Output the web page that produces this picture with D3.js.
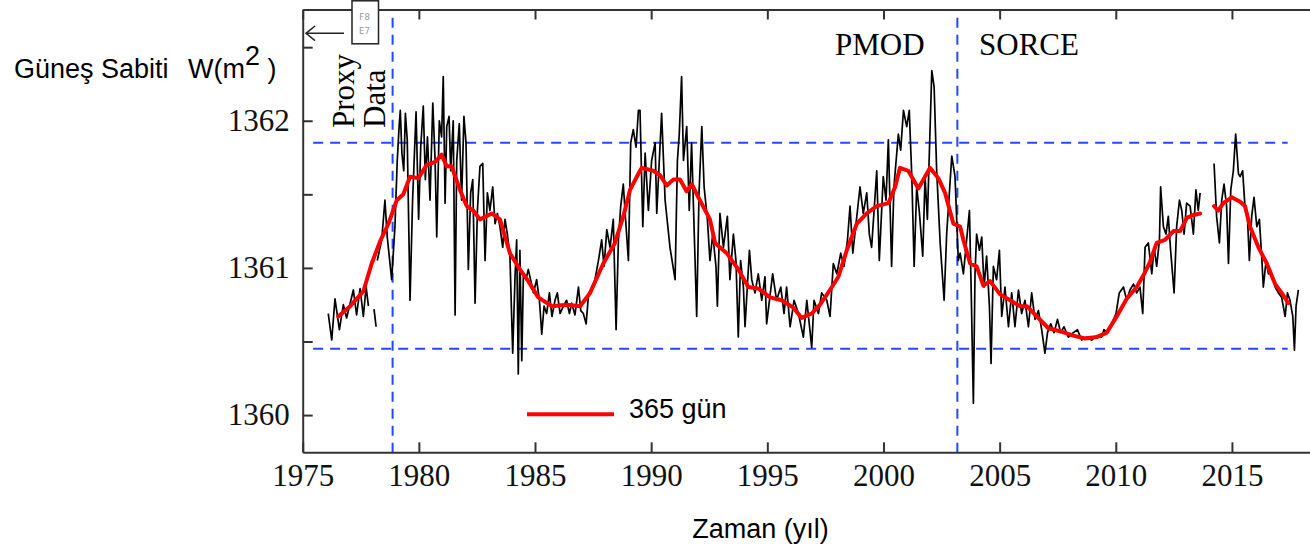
<!DOCTYPE html>
<html>
<head>
<meta charset="utf-8">
<script src="https://cdn.jsdelivr.net/npm/d3@7"></script>
<style>
body { margin: 0; background: #fff; }
svg { display: block; }
</style>
</head>
<body>
<div id="chart"></div>
<script>
"use strict";

// [year, W/m2]
var proxyTsi = [[1976.10,1360.69],[1976.25,1360.51],[1976.39,1360.79],[1976.58,1360.58],[1976.75,1360.75],[1976.89,1360.66],[1977.18,1360.85],[1977.32,1360.68],[1977.47,1360.86],[1977.61,1360.67],[1977.73,1360.87],[1977.83,1360.74]];
var proxyTsi2 = [[1978.07,1360.72],[1978.16,1360.60]];

var compositeTsi = [[1978.21,1361.05],[1978.40,1361.19],[1978.54,1361.46],[1978.64,1361.21],[1978.83,1360.92],[1978.97,1361.28],[1979.07,1361.73],[1979.15,1361.96],[1979.20,1362.07],[1979.27,1361.78],[1979.35,1361.66],[1979.42,1362.05],[1979.50,1361.87],[1979.62,1360.78],[1979.73,1361.46],[1979.88,1362.06],[1979.99,1361.33],[1980.08,1361.82],[1980.19,1362.10],[1980.28,1361.60],[1980.37,1361.89],[1980.48,1361.46],[1980.60,1362.12],[1980.70,1361.73],[1980.77,1361.21],[1980.88,1362.00],[1980.98,1361.89],[1981.05,1362.30],[1981.13,1361.44],[1981.20,1361.96],[1981.30,1362.03],[1981.37,1361.66],[1981.48,1362.00],[1981.56,1360.68],[1981.63,1361.73],[1981.74,1361.98],[1981.84,1361.46],[1981.94,1362.03],[1982.03,1361.85],[1982.13,1360.99],[1982.23,1361.51],[1982.32,1361.60],[1982.42,1360.76],[1982.52,1361.39],[1982.63,1361.69],[1982.75,1361.71],[1982.85,1361.05],[1982.95,1361.51],[1983.06,1361.39],[1983.18,1361.55],[1983.28,1361.30],[1983.38,1361.37],[1983.49,1361.28],[1983.61,1361.14],[1983.71,1361.33],[1983.81,1361.23],[1983.92,1361.08],[1984.04,1360.42],[1984.14,1360.94],[1984.21,1361.19],[1984.28,1360.28],[1984.35,1361.12],[1984.43,1360.37],[1984.50,1360.96],[1984.61,1360.92],[1984.71,1360.99],[1984.81,1360.92],[1984.93,1360.83],[1985.07,1360.92],[1985.19,1360.78],[1985.29,1360.55],[1985.39,1360.74],[1985.50,1360.69],[1985.62,1360.83],[1985.73,1360.67],[1985.86,1360.78],[1985.96,1360.83],[1986.08,1360.69],[1986.22,1360.74],[1986.36,1360.78],[1986.48,1360.69],[1986.58,1360.76],[1986.72,1360.68],[1986.87,1360.87],[1986.97,1360.71],[1987.08,1360.69],[1987.20,1360.62],[1987.31,1360.83],[1987.44,1360.85],[1987.58,1360.92],[1987.73,1361.05],[1987.87,1361.19],[1987.97,1361.01],[1988.09,1361.26],[1988.23,1361.14],[1988.37,1361.33],[1988.49,1360.58],[1988.59,1361.19],[1988.69,1361.42],[1988.80,1361.57],[1988.92,1361.28],[1989.02,1361.05],[1989.12,1361.85],[1989.23,1361.94],[1989.35,1361.82],[1989.45,1362.07],
  [1989.52,1362.07],[1989.64,1361.28],[1989.74,1361.78],[1989.88,1361.39],[1990.02,1361.73],[1990.17,1361.85],[1990.24,1361.37],[1990.45,1362.05],[1990.60,1361.46],[1990.81,1361.14],[1991.03,1360.92],[1991.13,1361.73],[1991.21,1361.91],[1991.31,1362.30],[1991.39,1361.73],[1991.53,1361.96],[1991.64,1361.39],[1991.74,1361.85],[1991.96,1360.67],[1992.06,1361.51],[1992.18,1361.96],[1992.28,1361.55],[1992.42,1361.33],[1992.53,1361.05],[1992.65,1361.23],[1992.79,1361.01],[1992.85,1360.74],[1992.96,1361.37],[1993.11,1361.14],[1993.28,1361.35],[1993.39,1360.92],[1993.54,1361.23],[1993.65,1361.05],[1993.75,1360.53],[1993.85,1361.05],[1993.97,1360.87],[1994.04,1360.60],[1994.23,1361.12],[1994.33,1360.92],[1994.47,1360.83],[1994.61,1360.96],[1994.76,1360.78],[1994.90,1360.94],[1994.97,1360.62],[1995.23,1360.96],[1995.40,1360.78],[1995.58,1360.87],[1995.72,1360.69],[1995.83,1360.87],[1995.98,1360.60],[1996.15,1360.78],[1996.34,1360.69],[1996.55,1360.53],[1996.70,1360.78],[1996.91,1360.46],[1997.01,1360.78],[1997.20,1360.69],[1997.34,1360.83],[1997.56,1360.78],[1997.70,1360.67],[1997.84,1361.03],[1997.99,1360.96],[1998.16,1361.10],[1998.30,1361.01],[1998.45,1361.19],[1998.56,1361.42],[1998.68,1361.10],[1998.99,1361.55],[1999.13,1361.37],[1999.28,1361.51],[1999.39,1361.23],[1999.49,1361.14],[1999.71,1361.66],[1999.82,1361.05],[1999.99,1361.62],[2000.11,1361.46],[2000.21,1361.87],[2000.35,1361.01],[2000.45,1361.55],[2000.64,1361.91],[2000.74,1361.80],[2000.86,1362.07],[2001.00,1361.96],[2001.11,1362.07],[2001.22,1361.62],[2001.32,1361.01],[2001.43,1361.55],[2001.55,1361.37],[2001.69,1361.08],[2001.79,1361.62],[2001.89,1361.33],[2002.08,1362.34],[2002.18,1362.23],[2002.29,1361.66],[2002.44,1361.17],[2002.61,1360.78],[2002.72,1361.23],[2002.94,1361.76],[2003.08,1361.62],[2003.22,1361.05],
  [2003.30,1361.10],[2003.44,1360.96],[2003.58,1361.19],[2003.70,1361.39],[2003.77,1360.89],[2003.87,1360.08],[2003.94,1360.96],[2004.01,1361.23],[2004.13,1361.12],[2004.23,1361.21],[2004.33,1360.87],[2004.44,1361.08],[2004.56,1360.74],[2004.63,1360.35],[2004.73,1361.01],[2004.87,1360.92],[2004.99,1361.12],[2005.09,1360.67],[2005.23,1360.87],[2005.38,1360.60],[2005.52,1360.83],[2005.66,1360.60],[2005.81,1360.85],[2005.95,1360.69],[2006.09,1360.78],[2006.24,1360.60],[2006.38,1360.83],[2006.52,1360.65],[2006.67,1360.71],[2006.81,1360.58],[2006.95,1360.42],[2007.06,1360.56],[2007.20,1360.62],[2007.34,1360.56],[2007.49,1360.65],[2007.63,1360.56],[2007.77,1360.60],[2007.96,1360.53],[2008.17,1360.56],[2008.35,1360.58],[2008.53,1360.51],[2008.75,1360.53],[2008.96,1360.51],[2009.18,1360.54],[2009.39,1360.53],[2009.49,1360.58],[2009.64,1360.56],[2009.82,1360.62],[2010.01,1360.69],[2010.15,1360.83],[2010.33,1360.87],[2010.47,1360.78],[2010.61,1360.85],[2010.76,1360.89],[2010.90,1360.83],[2011.04,1360.87],[2011.16,1360.69],[2011.26,1361.14],[2011.40,1361.17],[2011.55,1360.96],[2011.65,1361.14],[2011.76,1361.01],[2011.88,1361.19],[2011.93,1361.55],[2012.05,1361.28],[2012.16,1361.23],[2012.26,1361.35],[2012.36,1361.12],[2012.51,1360.83],[2012.62,1361.28],[2012.74,1361.46],[2012.84,1361.39],[2012.94,1361.23],[2013.05,1361.44],[2013.20,1361.42],[2013.34,1361.23],[2013.45,1361.53],[2013.55,1361.39],[2013.63,1361.51]];

var sorceTsi = [[2014.23,1361.71],[2014.34,1361.35],[2014.46,1361.17],[2014.56,1361.46],[2014.66,1361.57],[2014.77,1361.42],[2014.85,1361.03],[2014.95,1361.53],[2015.06,1361.66],[2015.16,1361.91],[2015.28,1361.64],[2015.35,1361.62],[2015.46,1361.66],[2015.56,1361.42],[2015.66,1361.37],[2015.75,1361.05],[2015.85,1361.35],[2015.95,1361.48],[2016.07,1361.28],[2016.18,1361.33],[2016.28,1361.08],[2016.35,1360.87],[2016.47,1361.05],[2016.57,1360.96],[2016.71,1360.96],[2016.86,1360.87],[2017.00,1360.83],[2017.14,1360.80],[2017.29,1360.67],[2017.39,1360.83],[2017.50,1360.78],[2017.62,1360.67],[2017.69,1360.44],[2017.76,1360.74],[2017.86,1360.85]];

// 365 day running mean
var smooth365a = [[1976.53,1360.67],[1977.04,1360.74],[1977.61,1360.84],[1977.97,1361.03],[1978.33,1361.18],[1978.69,1361.30],[1979.05,1361.46],[1979.33,1361.50],[1979.62,1361.62],[1979.98,1361.61],[1980.34,1361.70],[1980.70,1361.72],[1980.98,1361.77],[1981.20,1361.69],[1981.41,1361.69],[1981.77,1361.53],[1982.06,1361.42],[1982.34,1361.39],[1982.63,1361.33],[1983.14,1361.37],[1983.49,1361.33],[1983.92,1361.10],[1984.35,1360.99],[1984.71,1360.91],[1985.14,1360.80],[1985.72,1360.74],[1986.36,1360.75],[1986.94,1360.74],[1987.37,1360.83],[1987.94,1361.03],[1988.44,1361.17],[1988.80,1361.35],[1989.09,1361.53],[1989.45,1361.64],[1989.59,1361.68],[1990.09,1361.66],[1990.38,1361.63],[1990.67,1361.56],[1990.95,1361.60],[1991.24,1361.60],[1991.53,1361.52],[1991.75,1361.57],[1992.03,1361.48],[1992.53,1361.33],[1992.75,1361.17],[1993.25,1361.10],[1993.75,1360.99],[1994.18,1360.87],[1994.61,1360.86],[1995.12,1360.80],[1995.62,1360.78],[1996.12,1360.73],[1996.48,1360.66],[1996.91,1360.69],[1997.27,1360.75],[1997.70,1360.85],[1998.06,1360.94],[1998.42,1361.12],[1998.85,1361.30],[1999.28,1361.37],[1999.71,1361.42],[2000.21,1361.44],[2000.50,1361.55],[2000.71,1361.68],[2001.07,1361.66],[2001.50,1361.54],[2001.72,1361.60],[2002.00,1361.68],[2002.36,1361.61],[2002.65,1361.51],[2003.01,1361.30],[2003.30,1361.28],[2003.44,1361.19],[2003.73,1361.03],[2004.01,1361.01],[2004.30,1360.88],[2004.59,1360.91],[2005.02,1360.82],[2005.45,1360.78],[2005.88,1360.74],[2006.17,1360.74],[2006.60,1360.67],[2007.10,1360.59],[2007.60,1360.57],[2008.17,1360.54],[2008.68,1360.52],[2009.18,1360.53],[2009.61,1360.56],[2010.04,1360.67],[2010.47,1360.79],[2010.90,1360.87],[2011.19,1360.95],[2011.47,1361.04],[2011.76,1361.17],[2012.12,1361.19],[2012.48,1361.25],[2012.77,1361.25],[2013.06,1361.34],[2013.34,1361.36],[2013.63,1361.37]];
var smooth365b = [[2014.23,1361.42],[2014.41,1361.39],[2014.63,1361.44],[2014.99,1361.48],[2015.35,1361.45],[2015.56,1361.42],[2015.78,1361.28],[2016.14,1361.14],[2016.50,1361.03],[2016.86,1360.89],[2017.14,1360.83],[2017.43,1360.76]];

var refLevels = [1360.45, 1361.85];
var refSpan = [1975.45, 2017.4];
var instrumentBreaks = [1978.87, 2003.18];
var xTicks = [1975, 1980, 1985, 1990, 1995, 2000, 2005, 2010, 2015];
var yTicks = [1360, 1361, 1362];
var yMinorTicks = [1360.5, 1361.5, 1362.5];

var W = 1310, H = 552;
var margin = { top: 9.5, left: 302.7, right: 1310, bottom: 452.3 };

var svg = d3.select("#chart").append("svg").attr("width", W).attr("height", H);

var x = d3.scaleLinear().domain([1975, 2018.36]).range([margin.left, margin.right]);
var y = d3.scaleLinear().domain([1359.747, 1362.756]).range([margin.bottom, margin.top]);

var serif = "'Liberation Serif', 'Times New Roman', serif";
var sans = "'Liberation Sans', Arial, sans-serif";
var blue = "#2448ff";

// reference dashed lines
svg.selectAll(".href").data(refLevels).enter().append("line")
  .attr("x1", x(refSpan[0])).attr("x2", x(refSpan[1]))
  .attr("y1", function (d) { return y(d); }).attr("y2", function (d) { return y(d); })
  .attr("stroke", blue).attr("stroke-width", 2).attr("stroke-dasharray", "10,7");

svg.selectAll(".vref").data(instrumentBreaks).enter().append("line")
  .attr("x1", function (d) { return x(d); }).attr("x2", function (d) { return x(d); })
  .attr("y1", y(1362.70)).attr("y2", margin.bottom)
  .attr("stroke", blue).attr("stroke-width", 2).attr("stroke-dasharray", "10,7");

// data
var line = d3.line().x(function (d) { return x(d[0]); }).y(function (d) { return y(d[1]); });

[proxyTsi, proxyTsi2, compositeTsi, sorceTsi].forEach(function (s) {
  svg.append("path").datum(s).attr("d", line).attr("fill", "none")
    .attr("stroke", "#000").attr("stroke-width", 1.7).attr("stroke-linejoin", "round");
});

[smooth365a, smooth365b].forEach(function (s) {
  svg.append("path").datum(s).attr("d", line).attr("fill", "none")
    .attr("stroke", "#ff0000").attr("stroke-width", 4).attr("stroke-linejoin", "round").attr("stroke-linecap", "round");
});

// axes
function styleAxis(g) {
  g.selectAll("path, line").attr("stroke", "#333").attr("stroke-width", 2);
  g.selectAll("text").attr("font-family", serif).attr("font-size", 31).attr("fill", "#111");
}

svg.append("g").attr("transform", "translate(0," + margin.bottom + ")")
  .call(d3.axisBottom(x).tickValues(xTicks).tickSizeInner(-10).tickSizeOuter(0).tickPadding(12).tickFormat(d3.format("d")))
  .call(styleAxis);

svg.append("g").attr("transform", "translate(0," + margin.top + ")")
  .call(d3.axisTop(x).tickValues(xTicks).tickSizeInner(-10).tickSizeOuter(0).tickFormat(""))
  .call(styleAxis);

svg.append("g").attr("transform", "translate(" + margin.left + ",0)")
  .call(d3.axisLeft(y).tickValues(yTicks).tickSizeInner(-10).tickSizeOuter(0).tickPadding(13).tickFormat(d3.format("d")))
  .call(styleAxis);

svg.append("g").attr("transform", "translate(" + margin.left + ",0)")
  .call(d3.axisLeft(y).tickValues(yMinorTicks).tickSizeInner(-10).tickSizeOuter(0).tickFormat(""))
  .call(function (g) { g.select(".domain").remove(); })
  .call(styleAxis);

// annotations
svg.append("text").attr("x", 835).attr("y", 55).attr("font-family", serif).attr("font-size", 31).text("PMOD");
svg.append("text").attr("x", 979).attr("y", 55).attr("font-family", serif).attr("font-size", 31).text("SORCE");

svg.append("text").attr("transform", "translate(354,128)rotate(-90)").attr("font-family", serif).attr("font-size", 31).text("Proxy");
svg.append("text").attr("transform", "translate(385,128)rotate(-90)").attr("font-family", serif).attr("font-size", 31).text("Data");

// little boxed marker with arrow, top left
svg.append("rect").attr("x", 352).attr("y", 0.8).attr("width", 26.5).attr("height", 43)
  .attr("fill", "#fff").attr("stroke", "#222").attr("stroke-width", 1.5);
svg.append("text").attr("x", 359).attr("y", 20).attr("font-family", "'DejaVu Sans Mono', monospace").attr("font-size", 9).attr("fill", "#999").text("F8");
svg.append("text").attr("x", 359).attr("y", 34).attr("font-family", "'DejaVu Sans Mono', monospace").attr("font-size", 9).attr("fill", "#999").text("E7");
svg.append("line").attr("x1", 344).attr("x2", 306).attr("y1", 33.3).attr("y2", 33.3).attr("stroke", "#222").attr("stroke-width", 1.5);
svg.append("path").attr("d", "M315,26L306,33.3L315,40.6").attr("fill", "none").attr("stroke", "#222").attr("stroke-width", 1.5);

// y title
var yt = svg.append("text").attr("y", 78).attr("font-family", sans).attr("font-size", 27).attr("fill", "#000");
yt.append("tspan").attr("x", 14).text("Güneş Sabiti");
yt.append("tspan").attr("x", 188).text("W(m");
yt.append("tspan").attr("dy", -13).text("2");
yt.append("tspan").attr("dy", 13).text(" )");

// x title
svg.append("text").attr("x", 760.5).attr("y", 538).attr("text-anchor", "middle")
  .attr("font-family", sans).attr("font-size", 27).text("Zaman (yıl)");

// legend
svg.append("line").attr("x1", 527).attr("x2", 614).attr("y1", 414.3).attr("y2", 414.3)
  .attr("stroke", "#ff0000").attr("stroke-width", 4);
svg.append("text").attr("x", 629).attr("y", 418).attr("font-family", sans).attr("font-size", 27).text("365 gün");
</script>
</body>
</html>
